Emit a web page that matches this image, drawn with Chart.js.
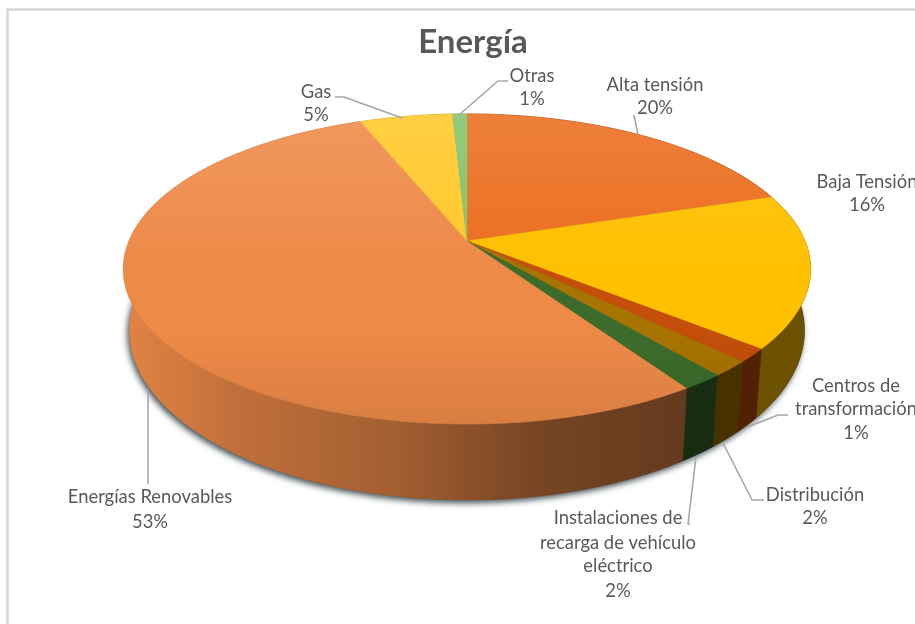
<!DOCTYPE html>
<html><head><meta charset="utf-8">
<style>html,body{margin:0;padding:0;background:#fff}canvas{display:block}</style>
<script src="https://cdn.jsdelivr.net/npm/chart.js@4"></script>
</head><body><canvas id="c" width="915" height="624"></canvas>
<script>
const categories = ['Alta tensión','Baja Tensión','Centros de transformación','Distribución','Instalaciones de recarga de vehículo eléctrico','Energías Renovables','Gas','Otras'];
const values = [20,16,1.4,1.6,1.7,53.3,5.2,0.8];
const sliceColors = ['#EB6E1F','#FFC000','#C44E0A','#A87400','#3C6C2C','#EE8A48','#FFC82A','#84C36C'];
const chartTitle = 'Energía';

// projection of the unit disc on to the tilted pie
const TOP = {cx:467, cy:241, R:338, S:150, k:0.1805};
const BOT = {cx:467, cy:300, R:332, S:164, k:0.18};
const project = (p,a)=>{const x=Math.cos(a),y=Math.sin(a),w=1-p.k*y;return [p.cx+p.R*x/w,p.cy+p.S*y/w];};

// label layout: lines, centre x, centre y of each line, leader polyline
const labelLayout = [
 {i:0,x:655,ys:[85,108],lead:[[634,115],[638,135]]},
 {i:1,x:867,ys:[182,205],lead:[]},
 {i:2,x:856,ys:[386,409,433],lines:['Centros de','transformación'],lead:[[788,415],[778,415],[745,428]]},
 {i:3,x:815,ys:[495,518],lead:[[764,500],[752,500],[723,443]]},
 {i:4,x:618,ys:[518,543,566,591],lines:['Instalaciones de','recarga de vehículo','eléctrico'],lead:[[690,524],[688,524],[696,457]]},
 {i:5,x:150,ys:[497,522],lead:[[148,484],[148,390]]},
 {i:6,x:316,ys:[92,115],lead:[[335,97],[344,97],[402,118]]},
 {i:7,x:532,ys:[76,99],lead:[[508,81],[498,81],[459,115]]}
];
const wallShade = [[0,.95],[.18,.8],[.4,.68],[.6,.5],[.82,.42],[1,.42]];

function rgb(h){return [1,3,5].map(i=>parseInt(h.slice(i,i+2),16));}
function scaled(h,f){const c=rgb(h).map(v=>Math.round(v*f));return `rgb(${c[0]},${c[1]},${c[2]})`;}
function arcPts(p,a,b){const n=Math.max(2,Math.ceil((b-a)/0.008)),o=[];for(let i=0;i<=n;i++)o.push(project(p,a+(b-a)*i/n));return o;}

const pie3d = {
 id:'pie3d',
 beforeDraw(chart){
  const g=chart.ctx;g.save();g.strokeStyle='#D6D6D6';g.lineWidth=2.5;g.strokeRect(7.5,9.5,1200,1200);g.restore();
 },
 beforeDatasetsDraw(chart){
  const g=chart.ctx,arcs=chart.getDatasetMeta(0).data;
  g.save();
  // shadow below the body
  const ring=arcPts(BOT,0,Math.PI*2);
  g.save();g.shadowColor='rgba(45,60,65,.9)';g.shadowBlur=6;g.shadowOffsetX=-2;g.shadowOffsetY=3;
  g.fillStyle='#555';g.beginPath();ring.forEach((q,i)=>i?g.lineTo(q[0],q[1]):g.moveTo(q[0],q[1]));g.closePath();g.fill();g.restore();
  // side wall
  arcs.forEach(el=>{
    const col=el.options.backgroundColor,a=arcPts(TOP,el.startAngle,el.endAngle),b=arcPts(BOT,el.startAngle,el.endAngle).reverse();
    const gr=g.createLinearGradient(123,0,810,0);wallShade.forEach(s=>gr.addColorStop(s[0],scaled(col,s[1])));
    g.fillStyle=gr;g.strokeStyle=gr;g.lineWidth=.6;g.beginPath();
    a.concat(b).forEach((q,i)=>i?g.lineTo(q[0],q[1]):g.moveTo(q[0],q[1]));g.closePath();g.fill();g.stroke();
  });
  // top face
  const light=g.createLinearGradient(0,114,0,424);
  light.addColorStop(0,'rgba(255,255,255,.12)');light.addColorStop(.5,'rgba(255,255,255,0)');
  light.addColorStop(.7,'rgba(0,0,0,0)');light.addColorStop(1,'rgba(0,0,0,.09)');
  arcs.forEach(el=>{
    const pts=arcPts(TOP,el.startAngle,el.endAngle);
    const path=()=>{g.beginPath();g.moveTo(TOP.cx,TOP.cy);pts.forEach(q=>g.lineTo(q[0],q[1]));g.closePath();};
    path();g.fillStyle=el.options.backgroundColor;g.strokeStyle=el.options.backgroundColor;g.lineWidth=.5;g.fill();g.stroke();
    path();g.fillStyle=light;g.fill();
  });
  g.restore();
  drawLabels(chart);
  return false;
 }
};

function drawLabels(chart){
 const g=chart.ctx;g.save();
 g.strokeStyle='#A6A6A6';g.lineWidth=1.6;g.lineJoin='round';
 labelLayout.forEach(l=>{ if(!l.lead.length)return;g.beginPath();l.lead.forEach((q,i)=>i?g.lineTo(q[0],q[1]):g.moveTo(q[0],q[1]));g.stroke();});
 g.fillStyle='#595959';g.font='18.4px Lato';g.textAlign='center';g.textBaseline='middle';
 labelLayout.forEach(l=>{
  const lines=(l.lines||[categories[l.i]]).concat(Math.round(values[l.i])+'%');
  lines.forEach((t,j)=>g.fillText(t,l.x,l.ys[j]));
 });
 g.restore();
}

new Chart(document.getElementById('c'),{
 type:'pie',
 data:{labels:categories,datasets:[{data:values,backgroundColor:sliceColors,borderWidth:0}]},
 options:{responsive:false,animation:false,
  layout:{padding:{left:31,top:23}},
  plugins:{legend:{display:false},tooltip:{enabled:false},
   title:{display:true,text:chartTitle,color:'#595959',font:{family:'Lato',size:33,weight:'bold'},padding:{top:0,bottom:8}}}},
 plugins:[pie3d]
});
</script></body></html>
